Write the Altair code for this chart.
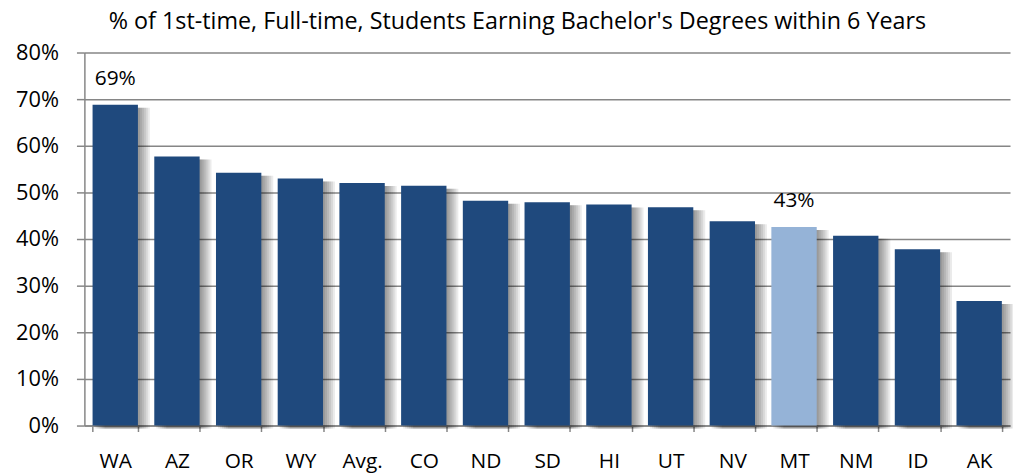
import altair as alt
import pandas as pd

states = ["WA", "AZ", "OR", "WY", "Avg.", "CO", "ND", "SD", "HI", "UT", "NV", "MT", "NM", "ID", "AK"]
values = [68.8, 57.7, 54.2, 53.0, 52.0, 51.4, 48.2, 47.9, 47.4, 46.8, 43.8, 42.6, 40.7, 37.8, 26.7]
labels = ["69%", "", "", "", "", "", "", "", "", "", "", "43%", "", "", ""]
highlight = ["no", "no", "no", "no", "no", "no", "no", "no", "no", "no", "no", "yes", "no", "no", "no"]
y_ticks = [0, 10, 20, 30, 40, 50, 60, 70, 80]

df = pd.DataFrame({"state": states, "value": values, "label": labels, "hl": highlight})

FONT = "Open Sans"
GRID = "#868686"

x_enc = alt.X("state:N", sort=states,
              scale=alt.Scale(paddingInner=0.265, paddingOuter=0.1325),
              axis=alt.Axis(title=None, labelAngle=0, labelFont=FONT, labelFontSize=21,
                            labelColor="#000000", labelPadding=30, tickBand="extent",
                            labelAlign="center", labelOffset=0,
                            tickSize=6, tickColor=GRID, tickWidth=1.5,
                            domainColor=GRID, domainWidth=1.5, grid=False))
y_enc = alt.Y("value:Q", scale=alt.Scale(domain=[0, 80], nice=False),
              axis=alt.Axis(title=None, values=y_ticks, labelExpr="datum.value + '%'",
                            labelFont=FONT, labelFontSize=22, labelColor="#000000",
                            labelPadding=18, tickSize=8, tickColor=GRID, tickWidth=1.5,
                            domainColor=GRID, domainWidth=1.5,
                            gridColor=GRID, gridWidth=1.5))

base = alt.Chart(df)

shadows = [
    base.mark_bar(color="#000000", opacity=0.08, xOffset=off, yOffset=3).encode(
        x=alt.X("state:N", sort=states), y="value:Q")
    for off in [2, 4, 6, 8, 10, 12]
]

bars = base.mark_bar().encode(
    x=x_enc, y=y_enc,
    color=alt.Color("hl:N", scale=alt.Scale(domain=["no", "yes"], range=["#1f497d", "#95b3d7"]),
                    legend=None),
)

text = base.mark_text(font=FONT, fontSize=21, baseline="bottom", dy=-16, color="#000000").encode(
    x=alt.X("state:N", sort=states), y="value:Q", text="label:N")

chart = alt.layer(*shadows, bars, text).properties(
    width=933, height=376,
    autosize=alt.AutoSizeParams(type="none"),
    padding={"left": 77, "top": 43, "right": 3, "bottom": 50},
    title=alt.TitleParams("% of 1st-time, Full-time, Students Earning Bachelor's Degrees within 6 Years",
                          font=FONT, fontSize=23.5, fontWeight="normal", color="#000000",
                          anchor="middle", dx=-30, offset=8),
).configure_view(stroke=None)

chart.save("out.html", embed_options={"renderer": "svg", "actions": False})
